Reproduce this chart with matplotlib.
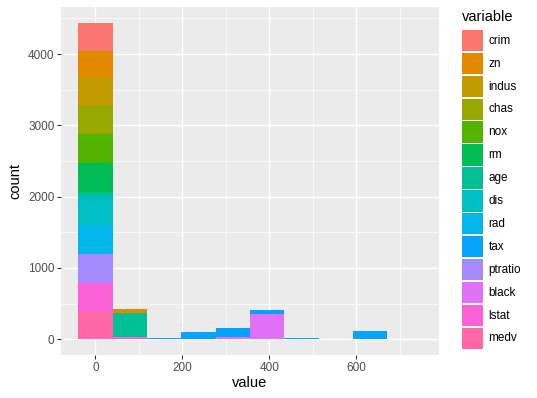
import matplotlib
matplotlib.use('Agg')
import matplotlib.pyplot as plt
from matplotlib.patches import Rectangle
import numpy as np

# melted Boston data, histogram with 10 bins (counts)
variables = ['crim', 'zn', 'indus', 'chas', 'nox', 'rm', 'age', 'dis',
             'rad', 'tax', 'ptratio', 'black', 'lstat', 'medv']
bin_centers = [0, 79, 158, 237, 316, 395, 474, 553, 632, 711]
bin_width = 79
counts = {
    'crim':    [399, 5, 0, 0, 0, 0, 0, 0, 0, 0],
    'zn':      [354, 50, 0, 0, 0, 0, 0, 0, 0, 0],
    'indus':   [404, 0, 0, 0, 0, 0, 0, 0, 0, 0],
    'chas':    [404, 0, 0, 0, 0, 0, 0, 0, 0, 0],
    'nox':     [404, 0, 0, 0, 0, 0, 0, 0, 0, 0],
    'rm':      [404, 0, 0, 0, 0, 0, 0, 0, 0, 0],
    'age':     [64, 340, 0, 0, 0, 0, 0, 0, 0, 0],
    'dis':     [404, 0, 0, 0, 0, 0, 0, 0, 0, 0],
    'rad':     [404, 0, 0, 0, 0, 0, 0, 0, 0, 0],
    'tax':     [0, 0, 8, 95, 115, 65, 12, 0, 108, 8],
    'ptratio': [404, 0, 0, 0, 0, 0, 0, 0, 0, 0],
    'black':   [8, 5, 4, 4, 35, 348, 0, 0, 0, 0],
    'lstat':   [404, 0, 0, 0, 0, 0, 0, 0, 0, 0],
    'medv':    [381, 23, 0, 0, 0, 0, 0, 0, 0, 0],
}
xticks = [0, 200, 400, 600]
yticks = [0, 1000, 2000, 3000, 4000]


def hcl_hex(h, c=100, l=65):
    # polar Luv -> sRGB, same as R's hcl()
    hr = np.deg2rad(h)
    u, v = c * np.cos(hr), c * np.sin(hr)
    Y = ((l + 16) / 116) ** 3
    un, vn = 0.1978398, 0.4683363
    up = u / (13 * l) + un
    vp = v / (13 * l) + vn
    X = Y * 9 * up / (4 * vp)
    Z = Y * (12 - 3 * up - 20 * vp) / (4 * vp)
    M = np.array([[3.240479, -1.537150, -0.498535],
                  [-0.969256, 1.875992, 0.041556],
                  [0.055648, -0.204043, 1.057311]])
    rgb = M @ np.array([X, Y, Z])
    rgb = np.where(rgb > 0.0031308, 1.055 * np.abs(rgb) ** (1 / 2.4) - 0.055,
                   12.92 * rgb)
    return tuple(np.clip(rgb, 0, 1))


hues = np.linspace(15, 375, len(variables) + 1)[:-1]
colors = {v: hcl_hex(h) for v, h in zip(variables, hues)}

plt.rcParams['font.family'] = ['Liberation Sans', 'DejaVu Sans']
W, H = 537, 398
fig = plt.figure(figsize=(W / 100, H / 100), dpi=100)
ax = fig.add_axes([61 / W, 1 - 355 / H, 378 / W, 348 / H])
ax.set_facecolor('#EBEBEB')

# stacked bars: medv at the bottom, crim on top
bottom = np.zeros(len(bin_centers))
for var in variables[::-1]:
    vals = np.array(counts[var], dtype=float)
    ax.bar(bin_centers, vals, width=bin_width, bottom=bottom,
           color=colors[var], linewidth=0, zorder=3)
    bottom += vals

top = bottom.max()
xlo, xhi = bin_centers[0] - bin_width / 2, bin_centers[-1] + bin_width / 2
xpad = (xhi - xlo) * 0.05
ax.set_xlim(xlo - xpad, xhi + xpad)
ax.set_ylim(-top * 0.05, top * 1.05)

ax.set_xticks(xticks)
ax.set_yticks(yticks)
ax.set_xticks([100, 300, 500, 700], minor=True)
ax.set_yticks([500, 1500, 2500, 3500, 4500], minor=True)
ax.grid(which='major', color='white', linewidth=1.0, zorder=0)
ax.grid(which='minor', color='white', linewidth=0.5, zorder=0)
ax.set_axisbelow(True)
ax.tick_params(which='major', length=2.64, width=0.77, color='#333333',
               labelsize=8.45, labelcolor='#4D4D4D', pad=2.1)
ax.tick_params(which='minor', length=0)
for s in ax.spines.values():
    s.set_visible(False)

ax.set_xlabel('value', fontsize=10.56)
ax.set_ylabel('count', fontsize=10.56)
ax.xaxis.set_label_coords(0.5, (355 - 383) / 348)
ax.yaxis.set_label_coords((15 - 61) / 378, 0.5)
ax.xaxis.label.set_va('center')
ax.yaxis.label.set_va('center')

# legend drawn by hand, ggplot style
fig.text(462 / W, 1 - 17 / H, 'variable', fontsize=10.56,
         ha='left', va='center')
pitch = 22.9
for i, var in enumerate(variables):
    y0 = 29.3 + i * pitch
    fig.patches.append(Rectangle((462 / W, 1 - (y0 + pitch - 1) / H),
                                 (pitch - 1.5) / W, (pitch - 1.5) / H,
                                 transform=fig.transFigure,
                                 facecolor=colors[var], linewidth=0))
    fig.text(488.5 / W, 1 - (y0 + pitch / 2) / H, var, fontsize=8.45,
             ha='left', va='center')

fig.savefig('out.png', dpi=100)
